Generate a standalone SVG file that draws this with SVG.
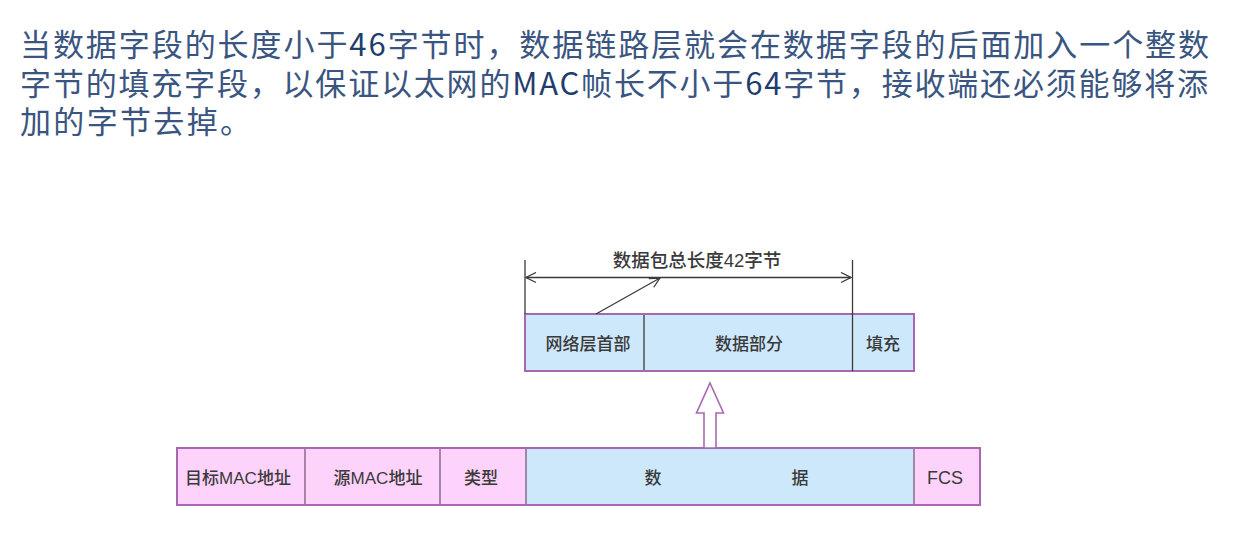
<svg xmlns="http://www.w3.org/2000/svg" width="1243" height="536" viewBox="0 0 1243 536">
<defs>
<style>
.title{font-family:"Noto Sans CJK SC","Liberation Sans",sans-serif;font-size:31px;fill:#3a5580;}
.num{fill:#1f3d6e;}
.lbl{font-family:"Liberation Sans","Noto Sans CJK SC",sans-serif;font-size:17px;font-weight:500;fill:#3a3a3a;text-anchor:middle;}
.pink{fill:#fdd3fb;}
.blue{fill:#cde8fb;}
.frame{fill:none;stroke:#a868b0;stroke-width:2;}
.div{stroke:#3a3a3a;stroke-width:1.3;}
.divp{stroke:#7a5a7a;stroke-width:1.3;}
.dim{stroke:#3a3a3a;stroke-width:1.3;fill:none;}
</style>
<marker id="open" markerWidth="12" markerHeight="12" refX="11" refY="6" orient="auto-start-reverse" markerUnits="userSpaceOnUse">
<path d="M1,1 L11,6 L1,11" fill="none" stroke="#3a3a3a" stroke-width="1.3"/>
</marker>
</defs>
<rect width="1243" height="536" fill="#ffffff"/>
<g id="title">
<text class="title" x="20" y="56" textLength="1189" lengthAdjust="spacing">当数据字段的长度小于<tspan class="num">46</tspan>字节时，数据链路层就会在数据字段的后面加入一个整数</text>
<text class="title" x="20" y="95" textLength="1188" lengthAdjust="spacing">字节的填充字段，以保证以太网的<tspan class="num">MAC</tspan>帧长不小于<tspan class="num">64</tspan>字节，接收端还必须能够将添</text>
<text class="title" x="20" y="133" textLength="231" lengthAdjust="spacing">加的字节去掉。</text>
</g>
<g id="packet">
<rect class="blue" x="525" y="314" width="389" height="57"/>
<line class="div" x1="644" y1="314" x2="644" y2="371"/>
<rect class="frame" x="525" y="314" width="389" height="57"/>
<text class="lbl" x="588" y="350">网络层首部</text>
<text class="lbl" x="749" y="350">数据部分</text>
<text class="lbl" x="883" y="350">填充</text>
</g>
<g id="frame">
<rect class="pink" x="177" y="448" width="349" height="57"/>
<rect class="blue" x="526" y="448" width="388" height="57"/>
<rect class="pink" x="914" y="448" width="66" height="57"/>
<line class="divp" x1="305" y1="448" x2="305" y2="505"/>
<line class="divp" x1="440" y1="448" x2="440" y2="505"/>
<line class="divp" x1="526" y1="448" x2="526" y2="505"/>
<line class="divp" x1="914" y1="448" x2="914" y2="505"/>
<rect class="frame" x="177" y="448" width="803" height="57" stroke="#a070a8"/>
<text class="lbl" x="238" y="484">目标MAC地址</text>
<text class="lbl" x="378" y="484">源MAC地址</text>
<text class="lbl" x="481" y="484">类型</text>
<text class="lbl" x="653" y="484">数</text>
<text class="lbl" x="800" y="484">据</text>
<text class="lbl" x="945" y="484" style="font-size:18px">FCS</text>
</g>
<g id="connectors">
<line class="dim" x1="525" y1="260" x2="525" y2="314"/>
<line class="dim" x1="852.5" y1="260" x2="852.5" y2="371"/>
<line class="dim" x1="526" y1="277.5" x2="851" y2="277.5" marker-start="url(#open)" marker-end="url(#open)"/>
<line class="dim" x1="596" y1="314" x2="660" y2="278" marker-end="url(#open)"/>
<polygon points="710,383 723.5,413 716,413 716,448 704,448 704,413 696.5,413" fill="#ffffff" stroke="#a868b0" stroke-width="1.6" stroke-linejoin="miter"/>
<text class="lbl" x="697" y="267" style="font-size:18.5px">数据包总长度42字节</text>
</g>
</svg>
